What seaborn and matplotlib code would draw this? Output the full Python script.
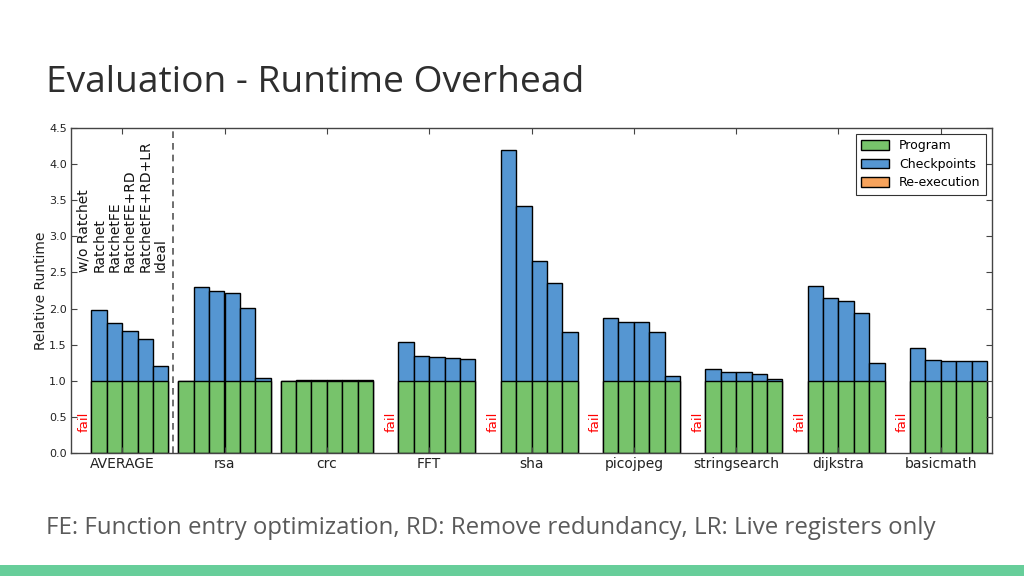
import numpy as np
import pandas as pd
import matplotlib
matplotlib.use("Agg")
import matplotlib.pyplot as plt
from matplotlib.patches import Patch, Rectangle
import seaborn as sns

nan = np.nan
benchmarks = ["AVERAGE", "rsa", "crc", "FFT", "sha", "picojpeg", "stringsearch", "dijkstra", "basicmath"]
configs = ["w/o Ratchet", "Ratchet", "RatchetFE", "RatchetFE+RD", "RatchetFE+RD+LR", "Ideal"]

total_average = [nan, 1.98, 1.80, 1.69, 1.58, 1.21]
total_rsa = [1.00, 2.30, 2.25, 2.22, 2.01, 1.04]
total_crc = [1.00, 1.01, 1.005, 1.005, 1.005, 1.005]
total_fft = [nan, 1.54, 1.35, 1.33, 1.31, 1.30]
total_sha = [nan, 4.19, 3.42, 2.66, 2.36, 1.67]
total_picojpeg = [nan, 1.87, 1.81, 1.81, 1.68, 1.06]
total_stringsearch = [nan, 1.16, 1.12, 1.12, 1.10, 1.03]
total_dijkstra = [nan, 2.31, 2.15, 2.10, 1.94, 1.25]
total_basicmath = [nan, 1.46, 1.29, 1.28, 1.27, 1.27]
program_value = 1.0

totals = [total_average, total_rsa, total_crc, total_fft, total_sha,
          total_picojpeg, total_stringsearch, total_dijkstra, total_basicmath]

rows = []
for b, tot in zip(benchmarks, totals):
    for c, t in zip(configs, tot):
        rows.append({"benchmark": b, "config": c, "total": t,
                     "program": nan if np.isnan(t) else program_value})
df = pd.DataFrame(rows)

GREEN = "#77C36B"
BLUE = "#5596D2"
ORANGE = "#F7A35C"

fig = plt.figure(figsize=(10.24, 5.76), dpi=100)
fig.patch.set_facecolor("white")
ax = fig.add_axes([71 / 1024, 1 - 453 / 576, 921 / 1024, 325 / 576])

common = dict(data=df, x="benchmark", hue="config", order=benchmarks, hue_order=configs,
              width=0.9, edgecolor="black", linewidth=1.0, legend=False, ax=ax,
              saturation=1, errorbar=None)
sns.barplot(y="total", palette=[BLUE] * 6, **common)
sns.barplot(y="program", palette=[GREEN] * 6, **common)

ax.set_xlim(-0.5, len(benchmarks) - 0.5)
ax.set_ylim(0, 4.5)
ax.set_yticks(np.arange(0, 4.51, 0.5))
ax.set_yticklabels([f"{v:.1f}" for v in np.arange(0, 4.51, 0.5)], fontsize=8, color="#222")
ax.set_xticks(range(len(benchmarks)))
ax.set_xticklabels(benchmarks, fontsize=10, color="#222")
ax.set_xlabel("")
ax.set_ylabel("Relative Runtime", fontsize=10, color="#222", labelpad=1)
ax.tick_params(direction="in", top=True, right=True, length=4, width=0.8, color="#444", pad=3)
for s in ax.spines.values():
    s.set_color("#444")
    s.set_linewidth(1.0)

ax.axvline(0.5, color="#555", linestyle="--", linewidth=1.2, dashes=(4, 3))

bw = 0.15
for i, (b, tot) in enumerate(zip(benchmarks, totals)):
    for j, t in enumerate(tot):
        if np.isnan(t):
            ax.text(i + (j - 2.5) * bw, 0.43, "fail", color="red", rotation=90,
                    ha="center", va="center", fontsize=9.5)

for j, c in enumerate(configs):
    ax.text(0 + (j - 2.5) * bw, 2.5, c, rotation=90, ha="center", va="bottom",
            fontsize=10, color="#111")

handles = [Patch(facecolor=GREEN, edgecolor="black", label="Program"),
           Patch(facecolor=BLUE, edgecolor="black", label="Checkpoints"),
           Patch(facecolor=ORANGE, edgecolor="black", label="Re-execution")]
leg = ax.legend(handles=handles, loc="upper right", fontsize=9, fancybox=False,
                frameon=True, edgecolor="black", borderpad=0.4, labelspacing=0.45,
                handlelength=2.3, handleheight=0.8, borderaxespad=0.5)
leg.get_frame().set_linewidth(0.8)

fig.text(46 / 1024, 1 - 83 / 576, "Evaluation - Runtime Overhead", fontsize=26.7,
         family=["Open Sans", "DejaVu Sans"], color="#2e2e2e", va="center", ha="left")
fig.text(46 / 1024, 1 - 528 / 576,
         "FE: Function entry optimization, RD: Remove redundancy, LR: Live registers only",
         fontsize=17.3, family=["Open Sans", "DejaVu Sans"], color="#5a5a5a", va="center", ha="left")
fig.patches.append(Rectangle((0, 0), 1, 11 / 576, transform=fig.transFigure,
                             facecolor="#67CE9A", edgecolor="none"))

fig.savefig("out.png", dpi=100)
